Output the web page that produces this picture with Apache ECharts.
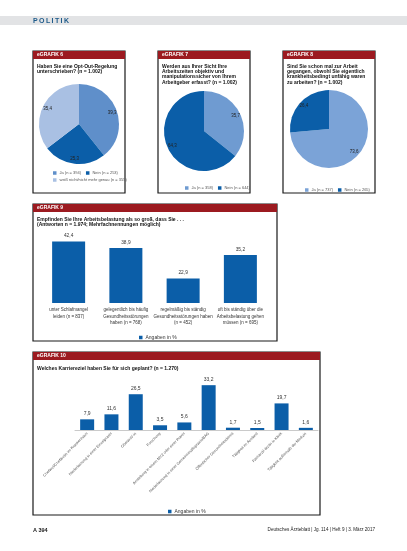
<!DOCTYPE html>
<html>
<head>
<meta charset="utf-8">
<script src="https://cdn.jsdelivr.net/npm/echarts@6/dist/echarts.min.js"></script>
<style>
html, body { margin: 0; padding: 0; background: #fff; }
#chart { width: 407px; height: 551px; }
</style>
</head>
<body>
<div id="chart"></div>
<script>
const FONT = '"Liberation Sans", Arial, sans-serif'

// eGRAFIK 6
const optOutNames = ['Ja (n = 394)', 'Nein (n = 253)', 'weiß nicht/nicht mehr genau (n = 355)']
const optOutValues = [39.3, 25.3, 35.4]
// eGRAFIK 7
const erfassungNames = ['Ja (n = 358)', 'Nein (n = 644)']
const erfassungValues = [35.7, 64.3]
// eGRAFIK 8
const krankNames = ['Ja (n = 737)', 'Nein (n = 265)']
const krankValues = [73.6, 26.4]
// eGRAFIK 9
const belastungCats = [
	'unter Schlafmangel\nleiden (n = 837)',
	'gelegentlich bis häufig\nGesundheitsstörungen\nhaben (n = 768)',
	'regelmäßig bis ständig\nGesundheitsstörungen haben\n(n = 452)',
	'oft bis ständig über die\nArbeitsbelastung gehen\nmüssen (n = 695)'
]
const belastungValues = [42.4, 38.9, 22.9, 35.2]
// eGRAFIK 10
const karriereCats = [
	'Chefarzt/Chefärztin im Krankenhaus',
	'Niederlassung in einer Einzelpraxis',
	'Oberarzt/-in',
	'Forschung',
	'Anstellung in einem MVZ oder einer Praxis',
	'Niederlassung in einer Gemeinschaftspraxis/BAG',
	'Öffentlicher Gesundheitsdienst',
	'Tätigkeit im Ausland',
	'Facharzt/-ärztin in Klinik',
	'Tätigkeit außerhalb der Medizin'
]
const karriereValues = [7.9, 11.6, 26.5, 3.5, 5.6, 33.2, 1.7, 1.5, 19.7, 1.6]

const BLUE = '#0b5ea8'
const RED = '#9c1a20'
const comma = (v) => String(v.toFixed(1)).replace('.', ',')

function pie(names, values, colors, cx, cy, r) {
	return [
		{
			type: 'pie',
			center: [cx, cy],
			radius: [0, r],
			startAngle: 90,
			label: { show: false },
			labelLine: { show: false },
			emphasis: { disabled: true },
			data: names.map((n, i) => ({ name: n, value: values[i], itemStyle: { color: colors[i] } }))
		},
		{
			type: 'pie',
			center: [cx, cy],
			radius: [r * 0.6, r],
			startAngle: 90,
			silent: true,
			itemStyle: { color: 'rgba(0,0,0,0)' },
			label: {
				position: 'inside',
				fontSize: 4.5,
				color: '#222',
				fontFamily: FONT,
				formatter: (p) => comma(p.value)
			},
			labelLine: { show: false },
			data: names.map((n, i) => ({ name: n, value: values[i] }))
		}
	]
}

function box(x, y, w, h, label) {
	return [
		{ type: 'rect', shape: { x, y, width: w, height: h }, style: { fill: '#fff', stroke: '#1a1a1a', lineWidth: 1.2 }, z: -10 },
		{ type: 'rect', shape: { x, y, width: w, height: 8 }, style: { fill: RED }, z: -9 },
		{ type: 'text', x: x + 4, y: y + 4, style: { text: label, fill: '#fff', fontSize: 5, fontWeight: 'bold', fontFamily: FONT, verticalAlign: 'middle' } }
	]
}

function title(x, y, text) {
	return { type: 'text', x, y, style: { text, fill: '#111', fontSize: 5, fontWeight: 'bold', fontFamily: FONT, lineHeight: 5.2, verticalAlign: 'top' } }
}

const legendBase = {
	icon: 'rect',
	itemWidth: 3.5,
	itemHeight: 3.5,
	itemGap: 5,
	orient: 'horizontal',
	selectedMode: false,
	textStyle: { fontSize: 4, color: '#555', fontFamily: FONT, padding: [0, 0, 0, -2] }
}

const chart = echarts.init(document.getElementById('chart'), null, { renderer: 'canvas' })

const option = {
	backgroundColor: '#fff',
	animation: false,
	graphic: { elements: [
		{ type: 'rect', shape: { x: 0, y: 16, width: 407, height: 9 }, style: { fill: '#e2e3e5' }, z: -20 },
		{ type: 'text', x: 33, y: 20.8, style: { text: 'P\u2009O\u2009L\u2009I\u2009T\u2009I\u2009K', fill: '#1d5a8a', fontSize: 7, fontWeight: 'bold', fontFamily: FONT, verticalAlign: 'middle' } },
		...box(33, 51, 92, 142, 'eGRAFIK 6'),
		...box(158, 51, 92, 142, 'eGRAFIK 7'),
		...box(283, 51, 92, 142, 'eGRAFIK 8'),
		...box(33, 204, 244, 137, 'eGRAFIK 9'),
		...box(33, 352, 287, 163, 'eGRAFIK 10'),
		title(37, 64, 'Haben Sie eine Opt-Out-Regelung\nunterschrieben? (n = 1.002)'),
		title(162, 64, 'Werden aus Ihrer Sicht Ihre\nArbeitszeiten objektiv und\nmanipulationssicher von Ihrem\nArbeitgeber erfasst? (n = 1.002)'),
		title(287, 64, 'Sind Sie schon mal zur Arbeit\ngegangen, obwohl Sie eigentlich\nkrankheitsbedingt unfähig waren\nzu arbeiten? (n = 1.002)'),
		title(37, 217, 'Empfinden Sie Ihre Arbeitsbelastung als so groß, dass Sie . . .\n(Antworten n = 1.974; Mehrfachnennungen möglich)'),
		title(37, 366, 'Welches Karriereziel haben Sie für sich geplant? (n = 1.270)'),
		{ type: 'text', x: 33, y: 530, style: { text: 'A 394', fill: '#222', fontSize: 5.5, fontWeight: 'bold', fontFamily: FONT, verticalAlign: 'middle' } },
		{ type: 'text', x: 375, y: 530, style: { text: 'Deutsches Ärzteblatt | Jg. 114 | Heft 9 | 3. März 2017', fill: '#222', fontSize: 4.6, fontFamily: FONT, align: 'right', verticalAlign: 'middle' } }
	] },
	legend: [
		{ ...legendBase, data: [optOutNames[0], optOutNames[1]], left: 48, top: 166 },
		{ ...legendBase, data: [optOutNames[2]], left: 48, top: 173 },
		{ ...legendBase, data: erfassungNames, left: 180, top: 181 },
		{ ...legendBase, data: krankNames, left: 300, top: 183 },
		{ ...legendBase, data: ['Angaben in %'], left: 134, top: 330, textStyle: { fontSize: 5, color: '#333', fontFamily: FONT, padding: [0, 0, 0, -2] } },
		{ ...legendBase, data: ['Angaben in %'], left: 163, top: 504, textStyle: { fontSize: 5, color: '#333', fontFamily: FONT, padding: [0, 0, 0, -2] } }
	],
	grid: [
		{ left: 40, right: 138, top: 227, bottom: 248 },
		{ left: 75, right: 89, top: 376, bottom: 121 }
	],
	xAxis: [
		{
			type: 'category', gridIndex: 0, data: belastungCats,
			axisLine: { show: false }, axisTick: { show: false },
			axisLabel: { fontSize: 4.5, color: '#333', fontFamily: FONT, lineHeight: 6.5, margin: 4, interval: 0 }
		},
		{
			type: 'category', gridIndex: 1, data: karriereCats,
			axisLine: { lineStyle: { color: '#bdbdbd', width: 0.8 } }, axisTick: { show: false },
			axisLabel: { fontSize: 3.8, color: '#555', fontFamily: FONT, rotate: 45, margin: 3, interval: 0 }
		}
	],
	yAxis: [
		{ type: 'value', gridIndex: 0, min: 10, max: 50, show: false, splitLine: { show: false } },
		{ type: 'value', gridIndex: 1, min: 0, max: 40, show: false, splitLine: { show: false } }
	],
	series: [
		...pie(optOutNames, optOutValues, ['#5f8fca', BLUE, '#a9c0e3'], 79, 124, 40),
		...pie(erfassungNames, erfassungValues, ['#6f9bd1', BLUE], 204, 131, 40),
		...pie(krankNames, krankValues, ['#7ba3d7', BLUE], 329, 129, 39),
		{
			name: 'Angaben in %', type: 'bar', xAxisIndex: 0, yAxisIndex: 0,
			barWidth: 33, itemStyle: { color: BLUE },
			label: { show: true, position: 'top', distance: 3, fontSize: 4.8, color: '#333', fontFamily: FONT, formatter: (p) => comma(p.value) },
			data: belastungValues
		},
		{
			name: 'Angaben in %', type: 'bar', xAxisIndex: 1, yAxisIndex: 1,
			barWidth: 14, itemStyle: { color: BLUE },
			label: { show: true, position: 'top', distance: 3, fontSize: 5, color: '#333', fontFamily: FONT, formatter: (p) => comma(p.value) },
			data: karriereValues
		}
	]
}
chart.setOption(option)
</script>
</body>
</html>
